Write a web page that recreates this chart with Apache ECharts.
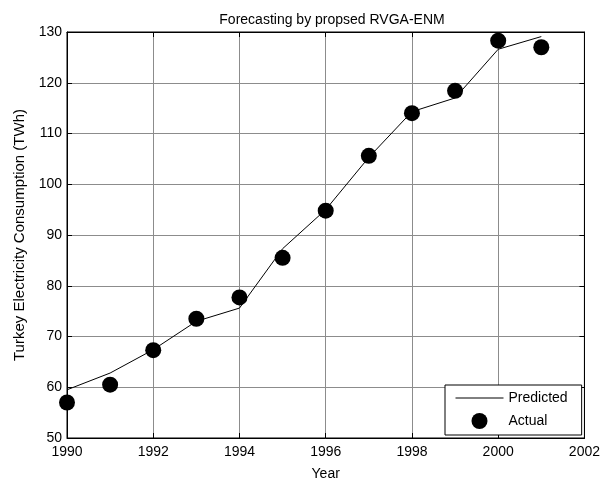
<!DOCTYPE html>
<html>
<head>
  <meta charset="UTF-8">
  <title>Forecasting by propsed RVGA-ENM</title>
  <script src="https://cdn.jsdelivr.net/npm/echarts@6/dist/echarts.min.js"></script>
  <style>
    body { margin: 0; background: #fff; }
    #chart { width: 603px; height: 486px; }
  </style>
</head>
<body>
  <div id="chart"></div>
  <script type="text/javascript">
    // values
    var years = [1990, 1991, 1992, 1993, 1994, 1995, 1996, 1997, 1998, 1999, 2000, 2001];
    var actual = [57.0, 60.5, 67.3, 73.5, 77.7, 85.5, 94.8, 105.6, 114.0, 118.4, 128.3, 127.0];
    var predicted = [59.5, 62.8, 67.4, 73.0, 75.6, 87.3, 95.0, 105.3, 114.3, 117.0, 126.6, 129.1];

    var font = 'Liberation Sans, Arial, sans-serif';
    var gridColor = '#8c8c8c';

    function pairs(vals) {
      return years.map(function (y, i) { return [y, vals[i]]; });
    }

    var myChart = echarts.init(document.getElementById('chart'), null, { renderer: 'canvas' });

    var option = {
      animation: false,
      backgroundColor: '#fff',
      textStyle: { fontFamily: font, color: '#000' },
      title: {
        text: 'Forecasting by propsed RVGA-ENM',
        left: 327,
        textAlign: 'center',
        top: 8,
        textStyle: { fontFamily: font, fontSize: 14, fontWeight: 'normal', color: '#000' }
      },
      grid: {
        left: 67, right: 15, top: 32, bottom: 44,
        show: true, borderColor: '#000', borderWidth: 1
      },
      legend: {
        orient: 'vertical',
        left: 445,
        top: 385,
        backgroundColor: '#fff',
        borderColor: '#000',
        borderWidth: 1,
        padding: [6, 14, 6, 10],
        itemWidth: 48,
        itemHeight: 16,
        itemGap: 8,
        textStyle: { fontFamily: font, fontSize: 14, color: '#000' },
        data: [
          { name: 'Predicted', itemStyle: { opacity: 0 }, lineStyle: { width: 1 } },
          { name: 'Actual' }
        ]
      },
      xAxis: [{
        type: 'value',
        min: 1990, max: 2002, interval: 2,
        name: 'Year',
        nameLocation: 'middle',
        nameGap: 29,
        nameTextStyle: { fontFamily: font, fontSize: 14, color: '#000' },
        axisLine: { lineStyle: { color: '#000' } },
        axisTick: { inside: true, length: 5, lineStyle: { color: '#000' } },
        axisLabel: {
          margin: 7, fontFamily: font, fontSize: 14, color: '#000',
          formatter: function (v) { return String(v); }
        },
        splitLine: { show: true, lineStyle: { color: gridColor, width: 1 } }
      }, {
        type: 'value', position: 'top',
        min: 1990, max: 2002, interval: 2,
        axisLine: { lineStyle: { color: '#000' } },
        axisTick: { inside: true, length: 5, lineStyle: { color: '#000' } },
        axisLabel: { show: false },
        splitLine: { show: false }
      }],
      yAxis: [{
        type: 'value',
        min: 50, max: 130, interval: 10,
        name: 'Turkey Electricity Consumption (TWh)',
        nameLocation: 'middle',
        nameGap: 39,
        nameTextStyle: { fontFamily: font, fontSize: 15, color: '#000' },
        axisLine: { show: true, lineStyle: { color: '#000' } },
        axisTick: { show: true, inside: true, length: 5, lineStyle: { color: '#000' } },
        axisLabel: { margin: 5, fontFamily: font, fontSize: 14, color: '#000' },
        splitLine: { show: true, lineStyle: { color: gridColor, width: 1 } }
      }, {
        type: 'value', position: 'right',
        min: 50, max: 130, interval: 10,
        axisLine: { show: true, lineStyle: { color: '#000' } },
        axisTick: { show: true, inside: true, length: 5, lineStyle: { color: '#000' } },
        axisLabel: { show: false },
        splitLine: { show: false }
      }],
      series: [{
        name: 'Predicted',
        type: 'line',
        data: pairs(predicted),
        symbol: 'none',
        lineStyle: { color: '#000', width: 1 },
        itemStyle: { color: '#000' },
        z: 3
      }, {
        name: 'Actual',
        type: 'scatter',
        data: pairs(actual),
        symbol: 'circle',
        symbolSize: 16,
        itemStyle: { color: '#000', opacity: 1 },
        z: 4
      }]
    };

    myChart.setOption(option);
  </script>
</body>
</html>
